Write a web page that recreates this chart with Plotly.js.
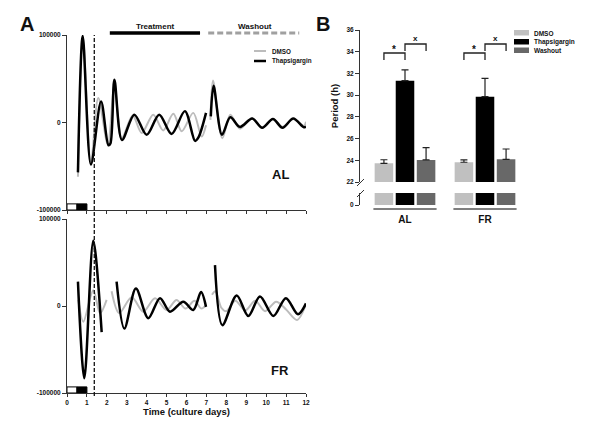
<!DOCTYPE html>
<html>
<head>
<meta charset="utf-8">
<script src="https://cdn.plot.ly/plotly-3.0.1.min.js"></script>
<style>html,body{margin:0;padding:0;background:#fff}#chart{width:600px;height:433px}</style>
</head>
<body>
<div id="chart"></div>
<script>
// ---------- Panel A data (bioluminescence, detrended) ----------
// AL (top) : DMSO (gray)
const alDmsoDay = [0.55,0.8,1.2,1.57,2.05,2.38,2.75,3.3,3.75,4.33,4.83,5.34,5.76,6.34,6.76,6.98,null,7.2,7.33,7.8,8.2,8.68,9.3,9.8,10.34,10.82,11.36,11.9,12.0];
const alDmsoVal = [-62000,96000,-47000,28000,-25000,42000,-18000,8000,-12000,9000,-9000,10000,-10000,11000,-16000,-3000,null,3000,48000,-18000,9000,-7000,5000,-6000,4000,-5000,4000,-4000,1000];
// AL (top) : Thapsigargin (black)
const alThapDay = [0.55,0.79,1.2,1.71,2.08,2.18,2.38,2.76,3.38,4.0,4.63,5.25,5.92,6.43,6.6,6.98,null,7.22,7.36,7.78,8.2,8.68,9.3,9.8,10.34,10.82,11.36,11.9,12.0];
const alThapVal = [-57000,99000,-48000,24000,-26000,-24000,49000,-20000,9000,-14000,9000,-13000,13000,-21000,-17000,11000,null,7000,42000,-14000,6000,-5000,4500,-6000,4000,-6000,4500,-5500,-4500];
// FR (bottom) : DMSO (gray)
const frDmsoDay = [0.57,0.82,1.32,1.66,1.99,null,2.24,2.62,3.25,3.83,4.42,5.0,5.5,5.95,6.4,6.75,6.98,null,7.28,7.45,7.75,8.0,8.45,8.95,9.45,9.95,10.5,11.0,11.55,12.0];
const frDmsoVal = [7000,-18000,18000,-8400,7000,null,17000,-8000,10000,-6500,8800,-4600,7000,-3000,6000,-3000,1000,null,13000,17000,-2000,-6000,6000,-5000,6000,-6000,5000,-4000,-16000,2000];
// FR (bottom) : Thapsigargin (black)
const frThapDay = [0.55,0.87,1.32,1.74,null,2.49,2.88,3.46,4.08,4.67,5.17,5.84,6.34,6.73,6.98,null,7.43,7.8,8.52,9.1,9.69,10.36,10.99,11.6,12.0];
const frThapVal = [28000,-83000,75000,-30000,null,28000,-26000,20000,-14000,9000,-6500,5000,-4600,16000,-1000,null,47000,-22000,12000,-11500,11000,-11500,9000,-9500,3000];

const dayTicks = [0,1,2,3,4,5,6,7,8,9,10,11,12];
const lumTicks = [-100000,0,100000];
const lumTickText = ['-100000','0','100000'];

// ---------- Panel B data (period, h) ----------
const groups = ['AL','FR'];
const seriesNames = ['DMSO','Thapsigargin','Washout'];
const dmsoPeriod = [23.72,23.82];
const dmsoErr = [0.33,0.22];
const thapPeriod = [31.33,29.86];
const thapErr = [0.99,1.69];
const washPeriod = [24.03,24.09];
const washErr = [1.13,0.95];
const periodTicks = [22,24,26,28,30,32,34,36];

// ---------- helpers ----------
const W = 600, H = 433;
const px = x => x / W;
const py = y => 1 - y / H;
const FONT = 'Liberation Sans, Arial, Helvetica, sans-serif';
const bold = (size, color) => ({family: FONT, size: size, color: color || '#111', weight: 'bold'});

const gray = '#bcbcbc';
const barColors = ['#c0c0c0', '#000000', '#686868'];
const groupX = groups.map((g, i) => i);

const traces = [
  {x: alDmsoDay, y: alDmsoVal, xaxis: 'x', yaxis: 'y', mode: 'lines', name: 'DMSO',
   line: {color: gray, width: 2, shape: 'spline', smoothing: 0.9}},
  {x: alThapDay, y: alThapVal, xaxis: 'x', yaxis: 'y', mode: 'lines', name: 'Thapsigargin',
   line: {color: '#000', width: 2.5, shape: 'spline', smoothing: 0.9}},
  {x: frDmsoDay, y: frDmsoVal, xaxis: 'x2', yaxis: 'y2', mode: 'lines', name: 'DMSO',
   line: {color: gray, width: 2, shape: 'spline', smoothing: 0.9}},
  {x: frThapDay, y: frThapVal, xaxis: 'x2', yaxis: 'y2', mode: 'lines', name: 'Thapsigargin',
   line: {color: '#000', width: 2.5, shape: 'spline', smoothing: 0.9}}
];

const periods = [dmsoPeriod, thapPeriod, washPeriod];
const errs = [dmsoErr, thapErr, washErr];
periods.forEach((vals, k) => {
  traces.push({type: 'bar', x: groupX, y: vals, xaxis: 'x3', yaxis: 'y3', name: seriesNames[k],
    marker: {color: barColors[k], line: {width: 0}},
    error_y: {type: 'data', symmetric: false, array: errs[k], arrayminus: vals.map(() => 0),
              color: '#222', thickness: 1.2, width: 3.5}});
});
periods.forEach((vals, k) => {
  traces.push({type: 'bar', x: groupX, y: vals, xaxis: 'x3', yaxis: 'y4', name: seriesNames[k],
    marker: {color: barColors[k], line: {width: 0}}, hoverinfo: 'skip'});
});

// bar slot width in x3 units
const bargap = 0.21;
const slot = (1 - bargap) / 3;

const shapes = [
  // dashed vertical line (start of treatment reference)
  {type: 'line', xref: 'x', yref: 'paper', x0: 1.37, x1: 1.37, y0: py(396), y1: py(35),
   line: {color: '#111', width: 1.3, dash: '4px,2px'}},
  // Treatment / Washout bars
  {type: 'line', xref: 'x', yref: 'paper', x0: 2.15, x1: 6.68, y0: py(33), y1: py(33),
   line: {color: '#000', width: 3.5}},
  {type: 'line', xref: 'x', yref: 'paper', x0: 7.09, x1: 11.66, y0: py(33), y1: py(33),
   line: {color: '#a0a0a0', width: 3, dash: '6px,3px'}},
  // light/dark boxes
  {type: 'rect', xref: 'x', yref: 'y', x0: 0, x1: 0.5, y0: -100000, y1: -93000,
   line: {color: '#000', width: 1}, fillcolor: '#fff'},
  {type: 'rect', xref: 'x', yref: 'y', x0: 0.5, x1: 1.0, y0: -100000, y1: -93000,
   line: {color: '#000', width: 1}, fillcolor: '#000'},
  {type: 'rect', xref: 'x2', yref: 'y2', x0: 0, x1: 0.5, y0: -100000, y1: -93000,
   line: {color: '#000', width: 1}, fillcolor: '#fff'},
  {type: 'rect', xref: 'x2', yref: 'y2', x0: 0.5, x1: 1.0, y0: -100000, y1: -93000,
   line: {color: '#000', width: 1}, fillcolor: '#000'},
  // Panel A legend samples
  {type: 'line', xref: 'paper', yref: 'paper', x0: px(254), x1: px(266), y0: py(51), y1: py(51),
   line: {color: gray, width: 2}},
  {type: 'line', xref: 'paper', yref: 'paper', x0: px(254), x1: px(266), y0: py(61), y1: py(61),
   line: {color: '#000', width: 2.5}},
  // Panel B legend swatches
  {type: 'rect', xref: 'paper', yref: 'paper', x0: px(514), x1: px(529), y0: py(35.5), y1: py(30),
   line: {width: 0}, fillcolor: barColors[0]},
  {type: 'rect', xref: 'paper', yref: 'paper', x0: px(514), x1: px(529), y0: py(44.5), y1: py(39),
   line: {width: 0}, fillcolor: barColors[1]},
  {type: 'rect', xref: 'paper', yref: 'paper', x0: px(514), x1: px(529), y0: py(53), y1: py(47.5),
   line: {width: 0}, fillcolor: barColors[2]},
  // axis break slashes
  {type: 'line', xref: 'paper', yref: 'paper', x0: px(357), x1: px(364), y0: py(186), y1: py(179),
   line: {color: '#333', width: 1}},
  {type: 'line', xref: 'paper', yref: 'paper', x0: px(357), x1: px(364), y0: py(197), y1: py(190),
   line: {color: '#333', width: 1}}
];
// group underlines and significance brackets
groupX.forEach(g => {
  shapes.push({type: 'line', xref: 'x3', yref: 'paper', x0: g - 1.5 * slot, x1: g + 1.5 * slot,
    y0: py(209), y1: py(209), line: {color: '#555', width: 1.5}});
  const xa = g - slot, xb = g, xc = g + slot;
  shapes.push({type: 'path', xref: 'x3', yref: 'y3',
    path: `M${xa},33.24 L${xa},33.88 L${xb},33.88 L${xb},33.24`, line: {color: '#222', width: 1.3}});
  shapes.push({type: 'path', xref: 'x3', yref: 'y3',
    path: `M${xb},34.07 L${xb},34.71 L${xc},34.71 L${xc},34.07`, line: {color: '#222', width: 1.3}});
});

const annotations = [
  {text: 'A', x: px(27), y: py(24), font: bold(20)},
  {text: 'B', x: px(323), y: py(24), font: bold(20)},
  {text: 'Treatment', x: px(155), y: py(26), font: bold(8)},
  {text: 'Washout', x: px(255), y: py(26), font: bold(8)},
  {text: 'DMSO', x: px(270), y: py(51), xanchor: 'left', font: bold(6.3)},
  {text: 'Thapsigargin', x: px(270), y: py(61), xanchor: 'left', font: bold(6.3)},
  {text: 'AL', x: px(280), y: py(175), font: bold(13)},
  {text: 'FR', x: px(280), y: py(370), font: bold(13)},
  {text: 'DMSO', x: px(532), y: py(33), xanchor: 'left', font: bold(6.5)},
  {text: 'Thapsigargin', x: px(532), y: py(42), xanchor: 'left', font: bold(6.5)},
  {text: 'Washout', x: px(532), y: py(50.5), xanchor: 'left', font: bold(6.5)}
].map(a => Object.assign({xref: 'paper', yref: 'paper', showarrow: false, xanchor: 'center', yanchor: 'middle'}, a));
groupX.forEach(g => {
  annotations.push({text: '*', xref: 'x3', yref: 'y3', x: g - slot / 2, y: 34.25, showarrow: false,
    font: bold(10), yanchor: 'middle'});
  annotations.push({text: 'x', xref: 'x3', yref: 'y3', x: g + slot / 2, y: 35.2, showarrow: false,
    font: bold(8), yanchor: 'middle'});
});

const axLine = '#333';
const xDomA = [px(67), px(306)];
const baseX = {range: [0, 12], domain: xDomA, tickvals: dayTicks, showgrid: false, zeroline: false,
  showline: true, linecolor: axLine, linewidth: 1, ticks: 'outside', ticklen: 3, tickcolor: axLine,
  tickfont: bold(6.5)};
const baseYA = {range: [-100000, 100000], tickvals: lumTicks, ticktext: lumTickText, showgrid: false,
  zeroline: false, showline: true, linecolor: axLine, linewidth: 1, ticks: 'outside', ticklen: 4,
  tickcolor: axLine, tickfont: {family: FONT, size: 6.5, color: '#111', weight: 'bold'}};
const innerX = {range: [0, 12], domain: xDomA, tickvals: dayTicks, showgrid: false, zeroline: false,
  showline: false, ticks: 'inside', ticklen: 3, tickcolor: axLine, showticklabels: false};

const layout = {
  width: W, height: H, margin: {l: 0, r: 0, t: 0, b: 0},
  paper_bgcolor: '#fff', plot_bgcolor: 'rgba(0,0,0,0)',
  showlegend: false, bargap: bargap, bargroupgap: 0.12, barmode: 'group',
  font: {family: FONT, color: '#111'},
  xaxis: Object.assign({}, baseX, {anchor: 'y', showticklabels: false}),
  yaxis: Object.assign({}, baseYA, {anchor: 'x', domain: [py(210), py(35)]}),
  xaxis2: Object.assign({}, baseX, {anchor: 'y2', showticklabels: true,
    title: {text: 'Time (culture days)', font: bold(9.5), standoff: 3}}),
  yaxis2: Object.assign({}, baseYA, {anchor: 'x2', domain: [py(393), py(219)]}),
  xaxis5: Object.assign({}, innerX, {anchor: 'y', overlaying: 'x'}),
  xaxis6: Object.assign({}, innerX, {anchor: 'y2', overlaying: 'x2'}),
  xaxis3: {domain: [px(360), px(525)], range: [-0.5625, 1.5], anchor: 'y4', tickvals: groupX,
    ticktext: groups, showline: false, showgrid: false, zeroline: false, ticks: 'outside',
    ticklen: 5, tickcolor: 'rgba(0,0,0,0)', tickfont: bold(10)},
  yaxis3: {domain: [py(182), py(30)], range: [22, 36], anchor: 'x3', tickvals: periodTicks,
    showline: true, linecolor: axLine, linewidth: 1, ticks: 'outside', ticklen: 4, tickcolor: axLine,
    showgrid: false, zeroline: false, tickfont: bold(6.5),
    title: {text: 'Period (h)', font: bold(9.5), standoff: 6}},
  yaxis4: {domain: [py(205), py(193)], range: [0, 1.1], anchor: 'x3', tickvals: [0],
    showline: true, linecolor: axLine, linewidth: 1, ticks: 'outside', ticklen: 4, tickcolor: axLine,
    showgrid: false, zeroline: false, tickfont: bold(6.5)},
  shapes: shapes,
  annotations: annotations
};

Plotly.newPlot('chart', traces, layout, {staticPlot: true, displayModeBar: false});
</script>
</body>
</html>
